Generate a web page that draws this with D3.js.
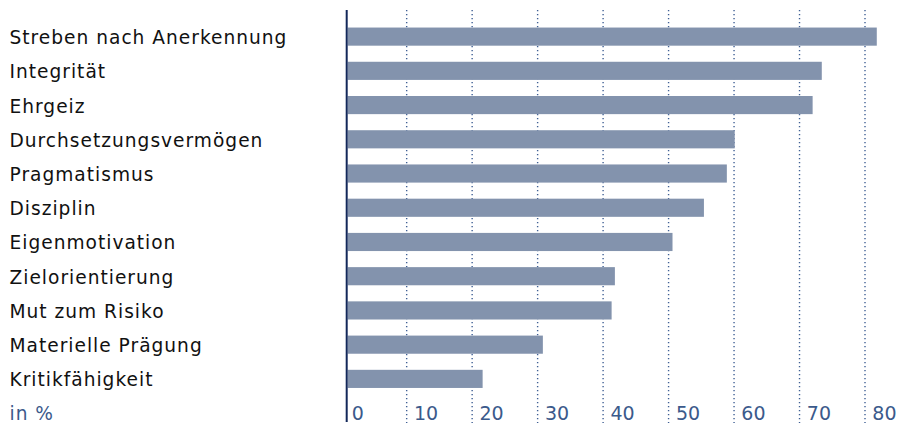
<!DOCTYPE html>
<html>
<head>
<meta charset="utf-8">
<script src="https://cdn.jsdelivr.net/npm/d3@7"></script>
<style>
  html, body { margin: 0; padding: 0; background: #fff; }
  svg { display: block; }
  text { font-family: "DejaVu Sans", "Noto Sans", sans-serif; }
</style>
</head>
<body>
<svg id="chart" width="919" height="423"></svg>
<script>
// Eigenschaften, Anteil der Nennungen in %
const categories = [
  "Streben nach Anerkennung",
  "Integrität",
  "Ehrgeiz",
  "Durchsetzungsvermögen",
  "Pragmatismus",
  "Disziplin",
  "Eigenmotivation",
  "Zielorientierung",
  "Mut zum Risiko",
  "Materielle Prägung",
  "Kritikfähigkeit"
];
const values = [81.8, 73.4, 72.0, 60.1, 58.9, 55.4, 50.6, 41.8, 41.3, 30.8, 21.6];
const tickValues = [0, 10, 20, 30, 40, 50, 60, 70, 80];
const unitLabel = "in %";

const svg = d3.select("#chart");

const x = d3.scaleLinear().domain([0, 80]).range([341.2, 865]);
const y = d3.scaleBand()
  .domain(categories)
  .range([19.5, 396])
  .paddingInner(0.47)
  .paddingOuter(0.235);

const axisX = x(0) + 5.5;     // vertical baseline of the bars
const barStart = axisX + 1;

// dotted grid lines
svg.append("g")
  .selectAll("line")
  .data(tickValues.filter(d => d > 0))
  .join("line")
  .attr("x1", d => x(d)).attr("x2", d => x(d))
  .attr("y1", 10).attr("y2", 423)
  .attr("stroke", "#3f5f94")
  .attr("stroke-width", 1.4)
  .attr("stroke-dasharray", "1.3,2.7");

// bars
svg.append("g")
  .selectAll("rect")
  .data(categories)
  .join("rect")
  .attr("x", barStart)
  .attr("y", d => y(d))
  .attr("width", (d, i) => x(values[i]) - barStart)
  .attr("height", y.bandwidth())
  .attr("fill", "#8393ad");

// vertical axis line
svg.append("line")
  .attr("x1", axisX).attr("x2", axisX)
  .attr("y1", 10).attr("y2", 422)
  .attr("stroke", "#13285a")
  .attr("stroke-width", 2);

// category labels
svg.append("g")
  .selectAll("text")
  .data(categories)
  .join("text")
  .attr("x", 9.5)
  .attr("y", d => y(d) + y.bandwidth() / 2 + 7.5)
  .attr("font-size", 18.6)
  .attr("letter-spacing", 1.0)
  .attr("fill", "#111")
  .text(d => d);

// tick labels
svg.append("g")
  .selectAll("text")
  .data(tickValues)
  .join("text")
  .attr("x", d => Math.max(x(d) + 7.3, axisX + 5))
  .attr("y", 420)
  .attr("font-size", 19)
  .attr("fill", "#3b5a8b")
  .text(d => d);

svg.append("text")
  .attr("x", 9.5)
  .attr("y", 420)
  .attr("font-size", 18.6)
  .attr("letter-spacing", 1.0)
  .attr("fill", "#3b5a8b")
  .text(unitLabel);
</script>
</body>
</html>
